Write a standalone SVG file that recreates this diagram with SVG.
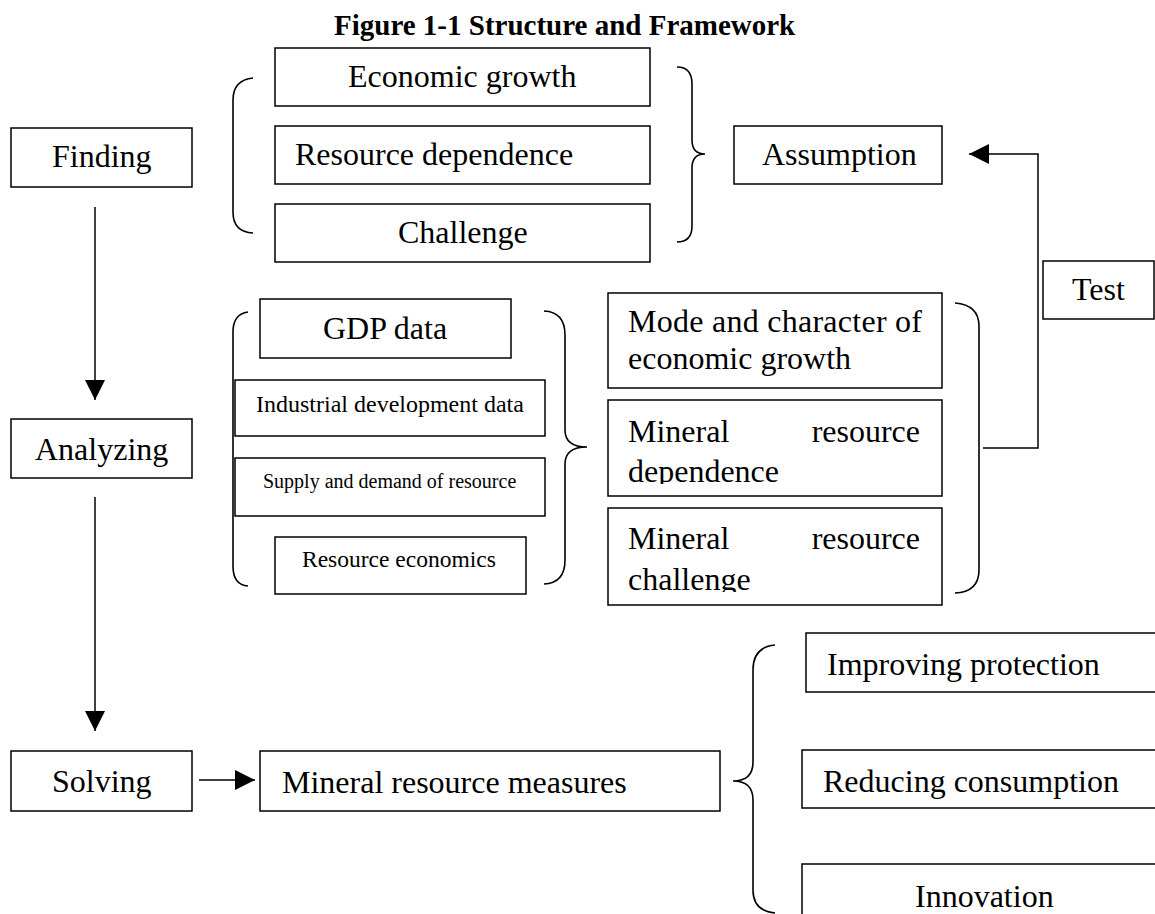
<svg xmlns="http://www.w3.org/2000/svg" width="1155" height="914" viewBox="0 0 1155 914">
<style>
  .box { fill: #fff; stroke: #000; stroke-width: 1.5; }
  .t { font-family: "Liberation Serif", "Times New Roman", serif; font-size: 32px; fill: #000; }
  .title { font-family: "Liberation Serif", "Times New Roman", serif; font-size: 29px; font-weight: bold; fill: #000; }
  .line { fill: none; stroke: #000; stroke-width: 1.5; }
  .brace { fill: none; stroke: #000; stroke-width: 1.6; }
</style>
<defs>
  <marker id="arr" markerUnits="userSpaceOnUse" markerWidth="20" markerHeight="20" viewBox="0 0 20 20" refX="20" refY="10" orient="auto">
    <path d="M0,0 L20,10 L0,20 z" fill="#000"/>
  </marker>
  <clipPath id="clipDep"><rect x="608" y="400" width="334" height="84"/></clipPath>
  <clipPath id="clipCha"><rect x="608" y="508" width="334" height="84"/></clipPath>
</defs>
<rect width="1155" height="914" fill="#fff"/>

<text class="title" x="334" y="35">Figure 1-1 Structure and Framework</text>

<g id="finding"><rect class="box" x="11" y="128" width="181" height="59"/><text class="t" x="52" y="167">Finding</text></g>
<g id="analyzing"><rect class="box" x="11" y="419" width="181" height="59"/><text class="t" x="35" y="460">Analyzing</text></g>
<g id="solving"><rect class="box" x="11" y="751" width="181" height="60"/><text class="t" x="52" y="792">Solving</text></g>

<g id="economic-growth"><rect class="box" x="275" y="48" width="375" height="58"/><text class="t" x="348" y="87">Economic growth</text></g>
<g id="resource-dependence"><rect class="box" x="275" y="126" width="375" height="58"/><text class="t" x="295" y="165">Resource dependence</text></g>
<g id="challenge"><rect class="box" x="275" y="204" width="375" height="58"/><text class="t" x="398" y="243">Challenge</text></g>

<g id="assumption"><rect class="box" x="734" y="126" width="208" height="58"/><text class="t" x="762" y="165">Assumption</text></g>
<g id="test"><rect class="box" x="1043" y="261" width="111" height="58"/><text class="t" x="1072" y="300">Test</text></g>

<g id="gdp-data"><rect class="box" x="260" y="299" width="251" height="59"/><text class="t" x="323" y="339">GDP data</text></g>
<g id="industrial"><rect class="box" x="235" y="380" width="310" height="56"/><text class="t" x="256" y="412" style="font-size:24px">Industrial development data</text></g>
<g id="supply-demand"><rect class="box" x="235" y="458" width="310" height="58"/><text class="t" x="263" y="488" style="font-size:20px">Supply and demand of resource</text></g>
<g id="resource-economics"><rect class="box" x="275" y="537" width="251" height="57"/><text class="t" x="302" y="567" style="font-size:23.5px">Resource economics</text></g>

<g id="mode-character"><rect class="box" x="608" y="293" width="334" height="95"/>
  <text class="t" x="628" y="332" textLength="294" lengthAdjust="spacing">Mode and character of</text>
  <text class="t" x="628" y="369">economic growth</text></g>
<g id="mineral-dependence"><rect class="box" x="608" y="400" width="334" height="96"/>
  <text class="t" x="628" y="442">Mineral</text>
  <text class="t" x="920" y="442" text-anchor="end">resource</text>
  <text class="t" x="628" y="482" clip-path="url(#clipDep)">dependence</text></g>
<g id="mineral-challenge"><rect class="box" x="608" y="508" width="334" height="97"/>
  <text class="t" x="628" y="549">Mineral</text>
  <text class="t" x="920" y="549" text-anchor="end">resource</text>
  <text class="t" x="628" y="590" clip-path="url(#clipCha)">challenge</text></g>

<g id="measures"><rect class="box" x="260" y="751" width="460" height="60"/><text class="t" x="282" y="793">Mineral resource measures</text></g>
<g id="improving"><rect class="box" x="806" y="633" width="360" height="59"/><text class="t" x="827" y="675">Improving protection</text></g>
<g id="reducing"><rect class="box" x="802" y="750" width="364" height="58"/><text class="t" x="823" y="792">Reducing consumption</text></g>
<g id="innovation"><rect class="box" x="802" y="864" width="364" height="60"/><text class="t" x="915" y="907">Innovation</text></g>

<g id="braces">
  <path class="brace" d="M253,78 Q233,80 233,100 L233,212 Q233,232 253,233"/>
  <path class="brace" d="M677,67 Q692,67 692,84 L692,140 Q692,154 705,154 Q692,154 692,168 L692,226 Q692,242 677,242"/>
  <path class="brace" d="M248,312 Q233,314 233,332 L233,566 Q233,585 248,586"/>
  <path class="brace" d="M544,311 Q565,312 565,335 L565,430 Q565,447 587,447 Q565,447 565,464 L565,560 Q565,583 544,584"/>
  <path class="brace" d="M955,303 Q979,305 979,326 L979,570 Q979,592 955,593"/>
  <path class="brace" d="M775,645 Q753,647 753,670 L753,762 Q753,781 733,781 Q753,781 753,800 L753,890 Q753,911 775,913"/>
</g>

<g id="connectors">
  <line class="line" x1="95" y1="207" x2="95" y2="400" marker-end="url(#arr)"/>
  <line class="line" x1="95" y1="497" x2="95" y2="731" marker-end="url(#arr)"/>
  <line class="line" x1="199" y1="780" x2="255" y2="780" marker-end="url(#arr)"/>
  <path class="line" d="M983,448 H1038 V154 H969" marker-end="url(#arr)"/>
</g>
</svg>
